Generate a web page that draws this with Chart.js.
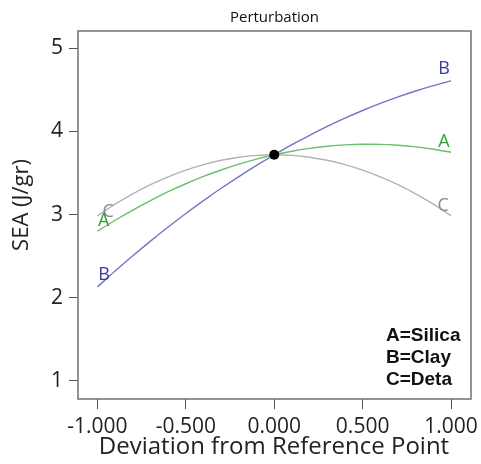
<!DOCTYPE html>
<html><head><meta charset="utf-8">
<script src="https://cdn.jsdelivr.net/npm/chart.js@4/dist/chart.umd.min.js"></script>
<style>html,body{margin:0;padding:0;background:#fff}#wrap{width:481px;height:464px}</style>
</head><body><div id="wrap"><canvas id="c" width="481" height="464"></canvas></div>
<script>
const deviation = [-1,-0.9,-0.8,-0.7,-0.6,-0.5,-0.4,-0.3,-0.2,-0.1,0,0.1,0.2,0.3,0.4,0.5,0.6,0.7,0.8,0.9,1];
const silicaA = [2.800,2.932,3.055,3.169,3.275,3.371,3.459,3.537,3.607,3.668,3.720,3.763,3.797,3.822,3.839,3.846,3.845,3.834,3.815,3.787,3.750];
const clayB   = [2.130,2.321,2.504,2.681,2.850,3.013,3.168,3.317,3.458,3.593,3.720,3.841,3.954,4.061,4.160,4.253,4.338,4.417,4.488,4.553,4.610];
const detaC   = [2.985,3.125,3.250,3.360,3.455,3.536,3.602,3.654,3.691,3.713,3.720,3.713,3.691,3.654,3.602,3.536,3.455,3.360,3.250,3.125,2.985];
const xTicks = [-1,-0.5,0,0.5,1];
const yTicks = [1,2,3,4,5];
const refPoint = {x:0, y:3.72};
const curveLabels = [
  {t:'B', x:0.96, y:4.75, c:'#3a3aa6'},
  {t:'A', x:0.96, y:3.87, c:'#34a034'},
  {t:'C', x:0.955, y:3.11, c:'#8a8a8a'},
  {t:'C', x:-0.94, y:3.03, c:'#8a8a8a'},
  {t:'A', x:-0.965, y:2.92, c:'#34a034'},
  {t:'B', x:-0.962, y:2.27, c:'#3a3aa6'}
];
const legendLines = ['A=Silica','B=Clay','C=Deta'];
const titleText = 'Perturbation';
const xTitle = 'Deviation from Reference Point';
const yTitle = 'SEA (J/gr)';

const FONT = "'Open Sans','Noto Sans',sans-serif";
const pts = arr => deviation.map((x,i)=>({x, y:arr[i]}));

const overlay = {
  id:'overlay',
  afterDatasetsDraw(chart){
    const {ctx, chartArea:a, scales:{x,y}} = chart;
    ctx.save();
    ctx.strokeStyle='#707070'; ctx.lineWidth=1.5;
    ctx.strokeRect(a.left, a.top, a.right-a.left, a.bottom-a.top);
    ctx.font = "18px " + FONT;
    ctx.textAlign='center'; ctx.textBaseline='middle';
    curveLabels.forEach(l=>{ ctx.fillStyle=l.c; ctx.fillText(l.t, x.getPixelForValue(l.x), y.getPixelForValue(l.y)); });
    ctx.fillStyle='#000';
    ctx.beginPath(); ctx.arc(x.getPixelForValue(refPoint.x), y.getPixelForValue(refPoint.y), 5, 0, Math.PI*2); ctx.fill();
    ctx.font = "bold 19px 'Liberation Sans',Arial,sans-serif";
    ctx.textAlign='left'; ctx.fillStyle='#111';
    legendLines.forEach((s,i)=>ctx.fillText(s, 386, 336 + i*22));
    ctx.fillStyle='#111'; ctx.textAlign='center';
    ctx.font = "15px " + FONT;
    ctx.fillText(titleText, (a.left+a.right)/2, 18);
    ctx.fillStyle='#222';
    ctx.font = "24px " + FONT;
    ctx.fillText(xTitle, 274, 447);
    ctx.save();
    ctx.translate(22, 205); ctx.rotate(-Math.PI/2);
    ctx.font = "22px " + FONT;
    ctx.fillText(yTitle, 0, 0);
    ctx.restore();
    ctx.restore();
  }
};

new Chart(document.getElementById('c'), {
  type:'scatter',
  data:{datasets:[
    {data:pts(detaC), showLine:true, borderColor:'#b3b3b3', borderWidth:1.4, pointRadius:0, tension:0.3},
    {data:pts(silicaA), showLine:true, borderColor:'#6cbf6c', borderWidth:1.4, pointRadius:0, tension:0.3},
    {data:pts(clayB), showLine:true, borderColor:'#7474c8', borderWidth:1.4, pointRadius:0, tension:0.3}
  ]},
  options:{
    responsive:false, animation:false, devicePixelRatio:1,
    layout:{padding:{top:31,right:10,left:0,bottom:0}},
    plugins:{legend:{display:false}, tooltip:{enabled:false}},
    scales:{
      x:{type:'linear', min:-1.11, max:1.113,
        afterBuildTicks:s=>{s.ticks=xTicks.map(v=>({value:v}));},
        afterFit:s=>{s.height=65; s.paddingRight=0; s.paddingLeft=0;},
        ticks:{callback:v=>v.toFixed(3), font:{family:FONT,size:21}, color:'#222', padding:5, maxRotation:0, autoSkip:false},
        grid:{drawOnChartArea:false, drawTicks:true, tickLength:10, color:'#555', lineWidth:1},
        border:{display:false}
      },
      y:{type:'linear', min:0.78, max:5.21,
        afterBuildTicks:s=>{s.ticks=yTicks.map(v=>({value:v}));},
        afterFit:s=>{s.width=78; s.paddingTop=0; s.paddingBottom=0;},
        ticks:{font:{family:FONT,size:21}, color:'#222', padding:6},
        grid:{drawOnChartArea:false, drawTicks:true, tickLength:9, color:'#555', lineWidth:1},
        border:{display:false}
      }
    }
  },
  plugins:[overlay]
});
</script></body></html>
